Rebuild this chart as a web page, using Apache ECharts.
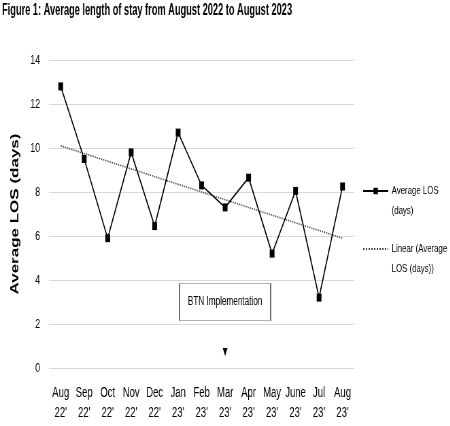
<!DOCTYPE html>
<html>
<head>
<meta charset="utf-8">
<script src="https://cdn.jsdelivr.net/npm/echarts@6/dist/echarts.min.js"></script>
<style>
  html, body { margin: 0; padding: 0; background: #fff; overflow: hidden; }
  #wrap { width: 450px; height: 426px; overflow: hidden; }
  /* the reference picture is squeezed horizontally, so draw wider and squeeze */
  #chart { width: 662px; height: 426px; transform: scaleX(0.68); transform-origin: 0 0; }
</style>
</head>
<body>
<div id="wrap"><div id="chart"></div></div>
<script>
// data
const months = ["Aug\n22'", "Sep\n22'", "Oct\n22'", "Nov\n22'", "Dec\n22'", "Jan\n23'", "Feb\n23'",
                "Mar\n23'", "Apr\n23'", "May\n23'", "June\n23'", "Jul\n23'", "Aug\n23'"];
const losValues = [12.8, 9.5, 5.9, 9.8, 6.45, 10.7, 8.3, 7.3, 8.65, 5.2, 8.05, 3.2, 8.25];
// trend line end points (first and last month)
const trendPoints = [[0, 10.1], [12, 5.9]];
const yTicks = [0, 2, 4, 6, 8, 10, 12, 14];

const font = '"Liberation Sans", Arial, sans-serif';

const chart = echarts.init(document.getElementById('chart'));

const option = {
  animation: false,
  backgroundColor: '#fff',
  graphic: [{
    type: 'text',
    left: 3,
    top: 3,
    scaleX: 0.85,
    style: {
      text: 'Figure 1: Average length of stay from August 2022 to August 2023',
      font: 'bold 16px ' + font,
      fill: '#000'
    }
  }],
  grid: { left: 72, right: 141, top: 60, bottom: 58 },
  legend: {
    orient: 'vertical',
    left: 528,
    top: 156,
    itemWidth: 37,
    itemHeight: 8,
    itemGap: -2,
    textStyle: {
      fontFamily: font,
      fontSize: 11.5,
      lineHeight: 20,
      color: '#000'
    },
    // leading empty line puts the first text line level with the icon
    formatter: function (name) {
      return name === 'Average LOS (days)' ? '\nAverage LOS\n(days)' : '\nLinear (Average\nLOS (days))';
    },
    data: [
      'Average LOS (days)',
      { name: 'Linear (Average LOS (days))', itemStyle: { opacity: 0 } }
    ]
  },
  xAxis: {
    type: 'category',
    data: months,
    axisLine: { show: false },
    axisTick: { show: false },
    axisLabel: {
      interval: 0,
      margin: 15,
      fontFamily: font,
      fontSize: 14,
      lineHeight: 20,
      color: '#000'
    }
  },
  yAxis: {
    type: 'value',
    min: 0,
    max: 14,
    interval: 2,
    name: 'Average LOS (days)',
    nameLocation: 'middle',
    nameGap: 41,
    nameTextStyle: {
      fontFamily: font,
      fontSize: 17,
      fontWeight: 'bold',
      color: '#000'
    },
    axisLabel: {
      margin: 13,
      fontFamily: font,
      fontSize: 13,
      color: '#000',
      formatter: function (v) { return yTicks.indexOf(v) >= 0 ? String(v) : ''; }
    },
    splitLine: { lineStyle: { color: '#d9d9d9', width: 1.2 } }
  },
  series: [
    {
      name: 'Average LOS (days)',
      type: 'line',
      data: losValues,
      symbol: 'rect',
      symbolSize: [7, 8],
      itemStyle: { color: '#000' },
      lineStyle: { color: '#000', width: 1.6 },
      z: 3,
      markPoint: {
        silent: true,
        data: [
          {
            coord: [7.15, 3],
            symbol: 'rect',
            symbolSize: [134, 37],
            itemStyle: { color: '#fff', borderColor: '#666', borderWidth: 1 },
            label: {
              show: true,
              position: 'inside',
              formatter: 'BTN Implementation',
              fontFamily: font,
              fontSize: 12,
              color: '#000'
            }
          },
          {
            coord: [7, 0.73],
            symbol: 'triangle',
            symbolRotate: 180,
            symbolSize: [7, 8],
            itemStyle: { color: '#000' },
            label: { show: false }
          }
        ]
      }
    },
    {
      name: 'Linear (Average LOS (days))',
      type: 'line',
      data: trendPoints,
      symbol: 'none',
      itemStyle: { color: '#444' },
      lineStyle: { color: '#444', width: 1.6, type: 'dotted' },
      z: 2
    }
  ]
};

chart.setOption(option);
</script>
</body>
</html>
